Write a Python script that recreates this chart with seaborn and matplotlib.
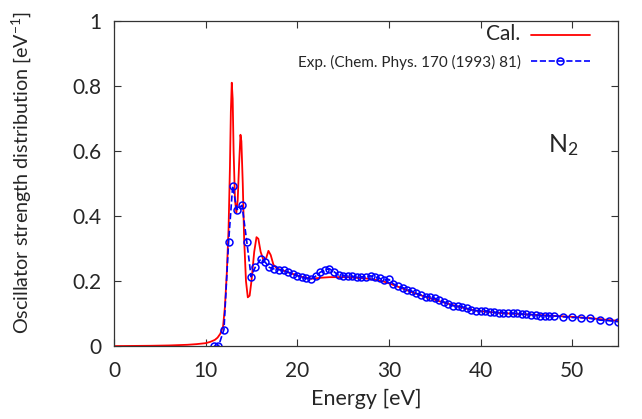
import numpy as np
import pandas as pd
import matplotlib
matplotlib.use('Agg')
import matplotlib.pyplot as plt
import seaborn as sns

# calculated spectrum
cal_energy = [0, 2, 4, 6, 8, 9, 10, 10.5, 11, 11.3, 11.6, 11.9, 12.1, 12.3, 12.5,
              12.65, 12.75, 12.85, 12.95, 13.05, 13.2, 13.35, 13.5, 13.65, 13.8,
              13.9, 14.05, 14.2, 14.4, 14.6, 14.8, 15.0, 15.3, 15.55, 15.75, 16.0,
              16.3, 16.6, 16.85, 17.1, 17.4, 17.8, 18.5, 19.5, 20.5, 21.5, 22.5,
              23.5, 24.5, 25.5, 26.5, 27.5, 28.5, 29.5, 30.5, 31.5, 32.5, 33.5,
              34.5, 35.5, 36.5, 37.5, 38.5, 39.5, 40.5, 42, 44, 46, 48, 50, 52,
              54, 55]
cal_osd = [0.0, 0.0005, 0.001, 0.002, 0.004, 0.006, 0.009, 0.013, 0.019, 0.026,
           0.038, 0.06, 0.12, 0.22, 0.36, 0.55, 0.72, 0.81, 0.76, 0.6, 0.45, 0.41,
           0.45, 0.56, 0.65, 0.63, 0.50, 0.33, 0.20, 0.15, 0.155, 0.2, 0.29, 0.335,
           0.33, 0.29, 0.265, 0.27, 0.293, 0.28, 0.25, 0.238, 0.232, 0.222, 0.213,
           0.207, 0.210, 0.212, 0.212, 0.212, 0.21, 0.208, 0.204, 0.198, 0.188,
           0.177, 0.166, 0.156, 0.147, 0.138, 0.13, 0.122, 0.115, 0.109, 0.106,
           0.102, 0.099, 0.096, 0.093, 0.09, 0.086, 0.08, 0.078]

# experiment, Chem. Phys. 170 (1993) 81
exp_energy = [10.9, 11.4, 12.0, 12.5, 12.95, 13.4, 13.97, 14.5, 14.96, 15.4, 16.0,
              16.5, 16.95, 17.5, 18.0, 18.5, 19.0, 19.5, 20.0, 20.5, 21.0, 21.5,
              22.0, 22.5, 23.0, 23.5, 24.0, 24.5, 25.0, 25.5, 26.0, 26.5, 27.0,
              27.5, 28.0, 28.5, 29.0, 29.5, 30.0, 30.5, 31.0, 31.5, 32.0, 32.5,
              33.0, 33.5, 34.0, 34.5, 35.0, 35.5, 36.0, 36.5, 37.0, 37.5, 38.0,
              38.5, 39.0, 39.5, 40.0, 40.5, 41.0, 41.5, 42.0, 42.5, 43.0, 43.5,
              44.0, 44.5, 45.0, 45.5, 46.0, 46.5, 47.0, 47.5, 48.0, 49.0, 50.0,
              51.0, 52.0, 53.0, 54.0, 55.0]
exp_osd = [0.0, 0.0, 0.051, 0.319, 0.493, 0.42, 0.433, 0.319, 0.213, 0.242, 0.267,
           0.258, 0.242, 0.237, 0.235, 0.233, 0.227, 0.222, 0.217, 0.211, 0.208,
           0.207, 0.215, 0.227, 0.234, 0.238, 0.229, 0.218, 0.217, 0.217, 0.215,
           0.211, 0.213, 0.213, 0.216, 0.213, 0.208, 0.203, 0.205, 0.191, 0.185,
           0.180, 0.174, 0.169, 0.162, 0.157, 0.152, 0.152, 0.147, 0.142, 0.136,
           0.129, 0.124, 0.123, 0.121, 0.116, 0.111, 0.109, 0.109, 0.109, 0.106,
           0.104, 0.103, 0.103, 0.103, 0.101, 0.101, 0.098, 0.098, 0.097, 0.095,
           0.093, 0.093, 0.093, 0.093, 0.090, 0.088, 0.087, 0.085, 0.080, 0.078,
           0.075]

sns.set_style('ticks')
plt.rcParams['font.family'] = ['Lato', 'DejaVu Sans']
plt.rcParams['mathtext.default'] = 'regular'

fig = plt.figure(figsize=(6.42, 4.19), dpi=100)
ax = fig.add_axes([0.1776, 0.174, 0.785, 0.776])

sns.lineplot(x=cal_energy, y=cal_osd, ax=ax, color='red', linewidth=1.3,
             label='Cal.')
sns.lineplot(x=exp_energy, y=exp_osd, ax=ax, color='blue', linewidth=1.2,
             linestyle='--', marker='o', markersize=5, markerfacecolor='none',
             markeredgecolor='blue', markeredgewidth=1.1,
             label='Exp. (Chem. Phys. 170 (1993) 81)')

ax.set_xlim(0, 55)
ax.set_ylim(0, 1)
ax.set_xticks([0, 10, 20, 30, 40, 50])
ax.set_yticks([0, 0.2, 0.4, 0.6, 0.8, 1])
ax.set_yticklabels(['0', '0.2', '0.4', '0.6', '0.8', '1'])
ax.tick_params(direction='in', top=True, right=True, length=5, width=0.8,
               labelsize=15, color='#333333')
ax.tick_params(axis='x', pad=11)
ax.tick_params(axis='y', pad=9)
for s in ax.spines.values():
    s.set_linewidth(0.9)
    s.set_color('#333333')

ax.set_xlabel('Energy [eV]', fontsize=15.5)
ax.set_ylabel('Oscillator strength distribution [eV$^{-1}$]', fontsize=14.2)
ax.xaxis.set_label_coords(0.501, -0.13)
ax.yaxis.set_label_coords(-0.16, 0.535)

ax.text(47.4, 0.597, 'N$_2$', fontsize=18, ha='left', va='baseline')

leg = ax.legend(loc='upper right', bbox_to_anchor=(0.954, 1.005),
                frameon=False, markerfirst=False, numpoints=1, fontsize=11,
                handlelength=3.9, handletextpad=0.65, borderpad=0.3,
                borderaxespad=0, labelspacing=0.7)
leg.get_texts()[0].set_fontsize(15)

fig.savefig('out.png', dpi=100)
